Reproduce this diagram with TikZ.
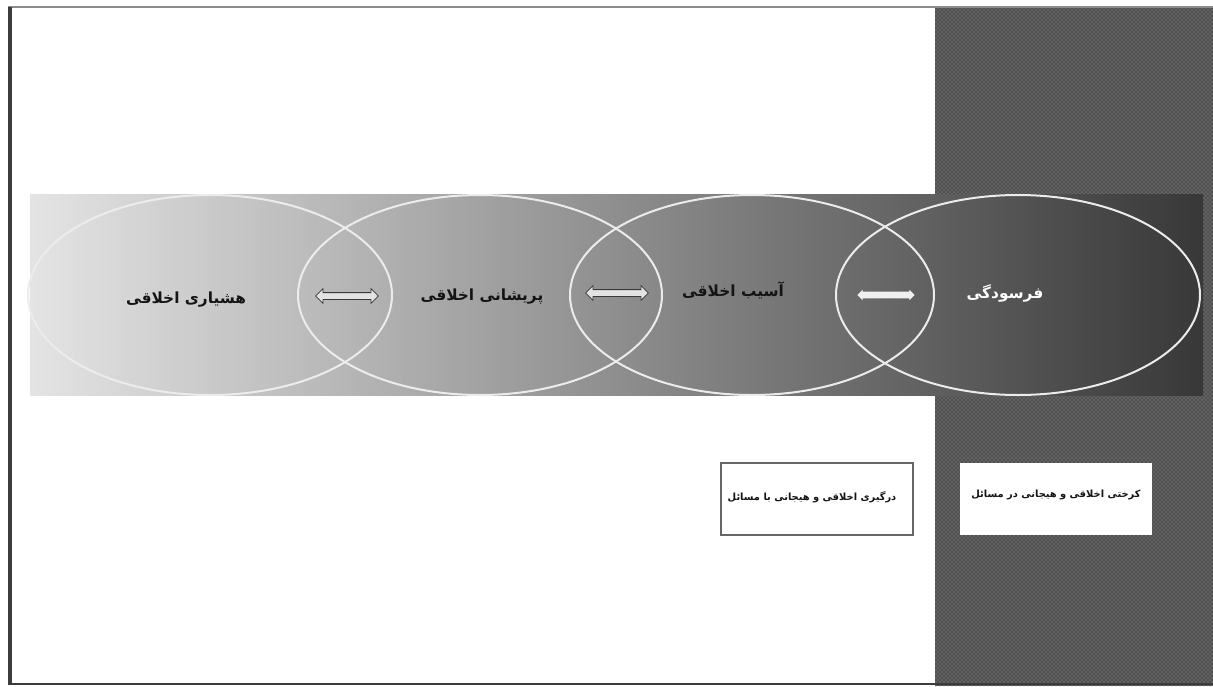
\documentclass[tikz,border=0pt]{standalone}
\usepackage{fontspec}
\TeXXeTstate=1
\newfontfamily\arabicfont[Script=Arabic]{DejaVu Sans}
\usetikzlibrary{shapes.geometric,shapes.arrows,patterns}
\definecolor{bandL}{RGB}{228,228,228}
\definecolor{bandR}{RGB}{56,56,56}
\definecolor{patbase}{RGB}{80,80,80}
\definecolor{patdot}{RGB}{165,165,165}
\definecolor{framedark}{RGB}{60,60,60}
\definecolor{framegray}{RGB}{140,140,140}
\definecolor{ellline}{RGB}{236,236,236}
\definecolor{txtdark}{RGB}{20,20,20}
\tikzset{
  x=0.75pt,y=-0.75pt,
  oval/.style={ellipse,draw=ellline,line width=1.5pt,minimum width=273pt,minimum height=150pt,inner sep=0pt},
  lbl/.style={font=\arabicfont\bfseries\fontsize{11.5}{13}\selectfont,text=txtdark,inner sep=0pt},
  smalllbl/.style={font=\arabicfont\bfseries\fontsize{7.4}{9}\selectfont,text=txtdark,inner sep=0pt},
  darrow/.style={double arrow,draw=gray!45!black,fill=gray!22,line width=0.6pt,inner xsep=0pt,inner ysep=2.25pt,minimum height=47pt,minimum width=10.5pt,double arrow head extend=3pt},
  warrow/.style={double arrow,fill=gray!12,inner xsep=0pt,inner ysep=2.25pt,minimum height=43pt,minimum width=8pt,double arrow head extend=1.5pt},
  infobox/.style={rectangle,fill=white,minimum width=144pt,minimum height=54pt,inner sep=0pt}
}
\begin{document}
\begin{tikzpicture}
\useasboundingbox (0,0) rectangle (1213,686);
\fill[white] (0,0) rectangle (1213,686);
% patterned right panel
\fill[patbase] (935,8) rectangle (1213,686);
\fill[pattern=crosshatch dots,pattern color=patdot] (935,8) rectangle (1213,686);
% frame
\draw[framegray,line width=1.5pt] (8,7) -- (1213,7);
\draw[framedark,line width=3pt] (10,7) -- (10,685);
\draw[framedark,line width=1.5pt] (8,684) -- (1213,684);
% gradient band
\shade[left color=bandL,right color=bandR] (30,194) rectangle (1203,395);
% ellipses
\node[oval] (e1) at (210,295) {};
\node[oval] (e2) at (480,295) {};
\node[oval] (e3) at (752,295) {};
\node[oval] (e4) at (1018,295) {};
% labels
\node[lbl] (t1) at (186,300) {\beginR هشیاری اخلاقی\endR};
\node[lbl] (t2) at (482,297) {\beginR پریشانی اخلاقی\endR};
\node[lbl] (t3) at (733,290) {\beginR آسیب اخلاقی\endR};
\node[lbl,text=white] (t4) at (1005,293) {\beginR فرسودگی\endR};
% arrows
\node[darrow] (a1) at (347,296) {};
\node[darrow] (a2) at (617,293) {};
\node[warrow] (a3) at (886,295) {};
% boxes
\node[infobox,draw=gray!80!black,line width=1pt] (b1) at (817,499) {};
\node[smalllbl] (bt1) at (812,497) {\beginR درگیری اخلاقی و هیجانی با مسائل\endR};
\node[infobox] (b2) at (1056,499) {};
\node[smalllbl] (bt2) at (1056,495) {\beginR کرختی اخلاقی و هیجانی در مسائل\endR};
\end{tikzpicture}
\end{document}
